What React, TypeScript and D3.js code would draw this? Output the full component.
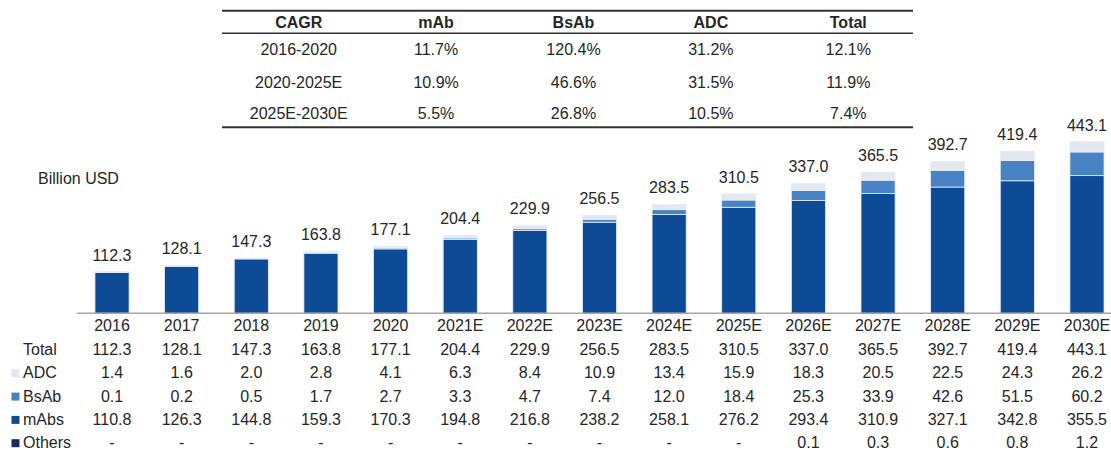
import React from 'react';
import * as d3 from 'd3';

// chart data
const years = ['2016', '2017', '2018', '2019', '2020', '2021E', '2022E', '2023E', '2024E', '2025E', '2026E', '2027E', '2028E', '2029E', '2030E'];
const totals = [112.3, 128.1, 147.3, 163.8, 177.1, 204.4, 229.9, 256.5, 283.5, 310.5, 337.0, 365.5, 392.7, 419.4, 443.1];
const adc = [1.4, 1.6, 2.0, 2.8, 4.1, 6.3, 8.4, 10.9, 13.4, 15.9, 18.3, 20.5, 22.5, 24.3, 26.2];
const bsab = [0.1, 0.2, 0.5, 1.7, 2.7, 3.3, 4.7, 7.4, 12.0, 18.4, 25.3, 33.9, 42.6, 51.5, 60.2];
const mabs = [110.8, 126.3, 144.8, 159.3, 170.3, 194.8, 216.8, 238.2, 258.1, 276.2, 293.4, 310.9, 327.1, 342.8, 355.5];
const others: (number | null)[] = [null, null, null, null, null, null, null, null, null, null, 0.1, 0.3, 0.6, 0.8, 1.2];

// CAGR table
const cagrHeaders = ['CAGR', 'mAb', 'BsAb', 'ADC', 'Total'];
const cagrPeriods = ['2016-2020', '2020-2025E', '2025E-2030E'];
const cagrMab = ['11.7%', '10.9%', '5.5%'];
const cagrBsab = ['120.4%', '46.6%', '26.8%'];
const cagrAdc = ['31.2%', '31.5%', '10.5%'];
const cagrTotal = ['12.1%', '11.9%', '7.4%'];

const colors: Record<string, string> = {
  others: '#1c2b5e',
  mabs: '#0d4b96',
  bsab: '#4682c4',
  adc: '#e3e7ef',
};

const W = 1111;
const H = 450;
const font = '"Liberation Sans", Arial, sans-serif';
const ink = '#262626';

export default function App() {
  React.useEffect(() => {
    document.body.style.margin = '0';
  }, []);

  const rows = years.map((y, i) => ({
    year: y,
    others: others[i] ?? 0,
    mabs: mabs[i],
    bsab: bsab[i],
    adc: adc[i],
  }));
  const keys = ['others', 'mabs', 'bsab', 'adc'];
  const series = d3.stack<any>().keys(keys)(rows);

  const x = d3.scaleBand().domain(years).range([77.2, 1121.8]).paddingInner(0.51).paddingOuter(0.255);
  const baseY = 313.3;
  const y = d3.scaleLinear().domain([6.4, 450]).range([baseY, baseY - (0.393 * 450 - 2.5)]);
  const cx = (yr: string) => (x(yr) ?? 0) + x.bandwidth() / 2;

  const tx = d3.scaleBand().domain(cagrHeaders).range([230, 917]);
  const tcx = (h: string) => (tx(h) ?? 0) + tx.bandwidth() / 2;
  const cagrCols = [cagrPeriods, cagrMab, cagrBsab, cagrAdc, cagrTotal];
  const rowBase = [55, 88, 119];

  const fmt = (v: number | null) => (v == null ? '-' : v.toFixed(1));
  const tableRows = [
    { label: 'Total', swatch: null, vals: totals.map(fmt) },
    { label: 'ADC', swatch: colors.adc, vals: adc.map(fmt) },
    { label: 'BsAb', swatch: colors.bsab, vals: bsab.map(fmt) },
    { label: 'mAbs', swatch: colors.mabs, vals: mabs.map(fmt) },
    { label: 'Others', swatch: colors.others, vals: others.map(fmt) },
  ];
  const tableBase0 = 355;
  const tableStep = 23.3;

  return (
    <svg width={W} height={H} style={{ display: 'block' }} fontFamily={font}>
      <rect width={W} height={H} fill="#fff" />

      {/* CAGR table */}
      <line x1={222} x2={913} y1={10.8} y2={10.8} stroke="#333" strokeWidth={2} />
      <line x1={222} x2={913} y1={33.3} y2={33.3} stroke="#333" strokeWidth={1.5} />
      <line x1={222} x2={913} y1={127.3} y2={127.3} stroke="#333" strokeWidth={2} />
      {cagrHeaders.map(h => (
        <text key={h} x={tcx(h)} y={28} textAnchor="middle" fontSize={16} fontWeight="bold" fill={ink}>{h}</text>
      ))}
      {cagrCols.map((col, ci) =>
        col.map((v, ri) => (
          <text key={`${ci}-${ri}`} x={tcx(cagrHeaders[ci])} y={rowBase[ri]} textAnchor="middle" fontSize={16} fill={ink}>{v}</text>
        ))
      )}

      <text x={38} y={184} fontSize={16} fill={ink}>Billion USD</text>

      {/* stacked bars */}
      {series.map(s => (
        <g key={s.key} fill={colors[s.key]}>
          {s.map((d, i) =>
            d[1] - d[0] > 0 ? (
              <rect
                key={i}
                x={x(years[i])}
                width={x.bandwidth()}
                y={y(d[1])}
                height={Math.max(0, Math.min(baseY, y(d[0])) - y(d[1]))}
                stroke="#e8eef7"
                strokeWidth={0.8}
              />
            ) : null
          )}
        </g>
      ))}

      {/* total labels */}
      {years.map((yr, i) => (
        <text key={yr} x={cx(yr)} y={y(totals[i]) - 11} textAnchor="middle" fontSize={16} fill={ink}>{fmt(totals[i])}</text>
      ))}

      {/* axis */}
      <line x1={77} x2={W} y1={baseY} y2={baseY} stroke="#a6a6a6" strokeWidth={1.5} />
      {years.map(yr => (
        <text key={yr} x={cx(yr)} y={331} textAnchor="middle" fontSize={16} fill={ink}>{yr}</text>
      ))}

      {/* data table */}
      {tableRows.map((r, ri) => {
        const by = tableBase0 + ri * tableStep;
        return (
          <g key={r.label}>
            {r.swatch && <rect x={11.5} y={by - 9} width={8} height={8} fill={r.swatch} />}
            <text x={23} y={by} fontSize={16} fill={ink}>{r.label}</text>
            {r.vals.map((v, i) => (
              <text key={i} x={cx(years[i])} y={by} textAnchor="middle" fontSize={16} fill={ink}>{v}</text>
            ))}
          </g>
        );
      })}
    </svg>
  );
}
